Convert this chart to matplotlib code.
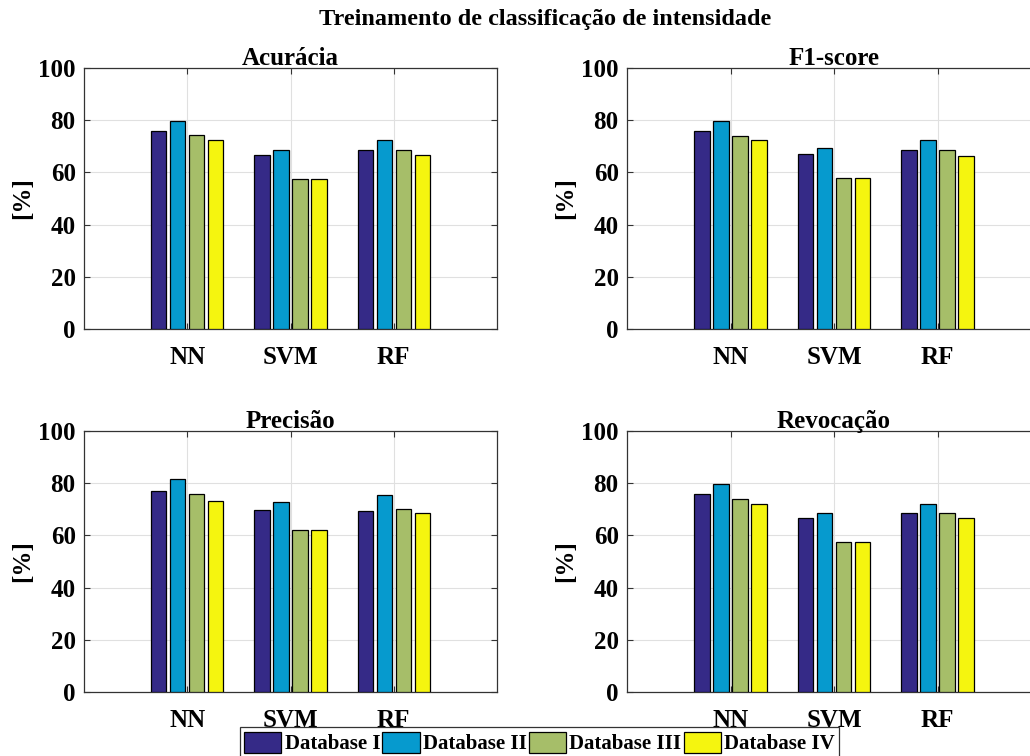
"""
Treinamento de classificacao de intensidade - grouped bars, 2x2.
"""

import numpy as np
import matplotlib
matplotlib.use('Agg')
import matplotlib.pyplot as plt

plt.rcParams['font.family'] = ['Liberation Serif', 'DejaVu Serif']
plt.rcParams['font.weight'] = 'bold'

classifiers = ['NN', 'SVM', 'RF']
databases = ['Database I', 'Database II', 'Database III', 'Database IV']
colors = ['#352A87', '#069ACE', '#A6BE69', '#F5F50F']

# rows: databases, columns: NN, SVM, RF
acuracia = [[76.0, 66.8, 68.7],
            [79.7, 68.7, 72.4],
            [74.2, 57.6, 68.7],
            [72.4, 57.6, 66.8]]
f1_score = [[76.0, 67.0, 68.7],
            [79.8, 69.2, 72.4],
            [73.9, 58.0, 68.7],
            [72.3, 58.0, 66.4]]
precisao = [[77.1, 69.6, 69.5],
            [81.5, 72.8, 75.5],
            [76.0, 62.2, 70.0],
            [73.3, 62.2, 68.6]]
revocacao = [[75.9, 66.7, 68.5],
             [79.7, 68.5, 72.2],
             [74.1, 57.3, 68.5],
             [72.2, 57.3, 66.7]]

titles = ['Acurácia', 'F1-score', 'Precisão', 'Revocação']
values = [acuracia, f1_score, precisao, revocacao]

W, H = 1030, 756
fig = plt.figure(figsize=(W / 100, H / 100), dpi=100)

# axes boxes in pixels: left, top, right, bottom
boxes = [(84, 68, 497, 329), (627, 68, 1041, 329),
         (84, 431, 497, 692), (627, 431, 1041, 692)]

x = np.arange(1, len(classifiers) + 1)
bar_w = 0.148
step = 0.184
offsets = (np.arange(len(databases)) - 1.5) * step

handles = []
for k in range(4):
    l, t, r, b = boxes[k]
    ax = fig.add_axes([l / W, 1 - b / H, (r - l) / W, (b - t) / H])
    data = values[k]
    for i in range(len(databases)):
        h = ax.bar(x + offsets[i], data[i], bar_w, color=colors[i],
                   edgecolor='black', linewidth=0.9, zorder=3)
        if k == 0:
            handles.append(h)
    ax.set_xlim(0, 4)
    ax.set_ylim(0, 100)
    ax.set_xticks(x)
    ax.set_xticklabels(classifiers, fontsize=18, fontweight='bold')
    ax.set_yticks([0, 20, 40, 60, 80, 100])
    ax.set_yticklabels(['0', '20', '40', '60', '80', '100'], fontsize=18,
                       fontweight='bold')
    ax.tick_params(direction='in', top=True, right=True, length=4,
                   width=0.8, color='#333333')
    ax.tick_params(axis='x', pad=12)
    ax.tick_params(axis='y', pad=6)
    ax.grid(True, color='#e0e0e0', linewidth=0.8, zorder=0)
    ax.set_axisbelow(True)
    for s in ax.spines.values():
        s.set_color('#333333')
        s.set_linewidth(0.9)
    ax.set_title(titles[k], fontsize=18, fontweight='bold', pad=2)
    ax.set_ylabel('[%]', fontsize=18, fontweight='bold', labelpad=3)

fig.text(545 / W, 1 - 20 / H, 'Treinamento de classificação de intensidade',
         ha='center', va='center', fontsize=17.5, fontweight='bold')

leg = fig.legend(handles, databases, loc='center', ncol=4,
                 bbox_to_anchor=(539.5 / W, 1 - 743 / H),
                 prop={'size': 15, 'weight': 'bold'},
                 handlelength=1.8, handleheight=1.2, handletextpad=0.15,
                 columnspacing=0.1, borderpad=0.2, borderaxespad=0,
                 fancybox=False, framealpha=1, edgecolor='#333333')
leg.get_frame().set_linewidth(0.9)

fig.savefig('out.png', dpi=100)
